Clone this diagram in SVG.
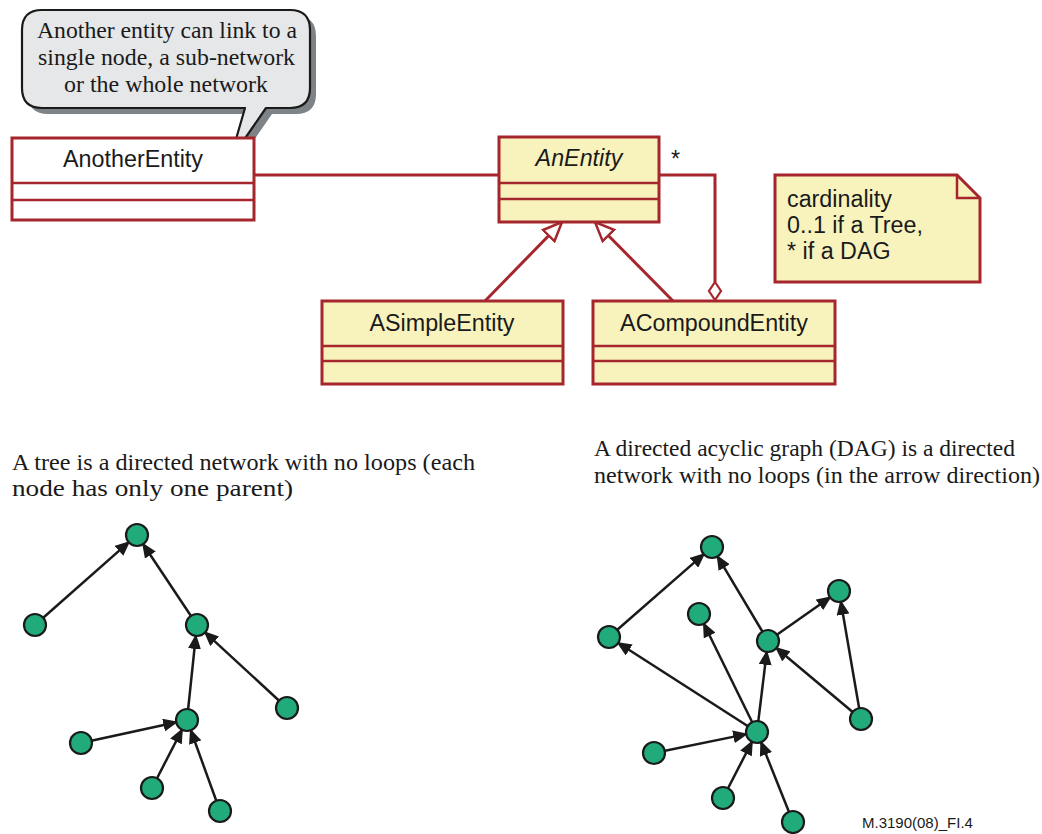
<svg xmlns="http://www.w3.org/2000/svg" width="1042" height="834" viewBox="0 0 1042 834">
<defs>
<style>
.cls{fill:#f8f3bd;stroke:#a5262c;stroke-width:3}
.div{stroke:#a5262c;stroke-width:2.5;fill:none}
.lnk{stroke:#a5262c;stroke-width:3;fill:none}
.uml{font-family:"Liberation Sans",Arial,sans-serif;font-size:23.3px;fill:#1a1a1a}
.ser{font-family:"Liberation Serif","Times New Roman",serif;font-size:23.8px;fill:#1a1a1a}
.edge{stroke:#1a1a1a;stroke-width:2.5;fill:none;marker-end:url(#arr)}
.nd{fill:#21ab7a;stroke:#1a1a1a;stroke-width:2.2}
</style>
<marker id="arr" markerUnits="userSpaceOnUse" markerWidth="15" markerHeight="13" viewBox="0 0 15 13" refX="12" refY="6.5" orient="auto">
<path d="M0,0 L15,6.5 L0,13 z" fill="#1a1a1a"/>
</marker>
<marker id="gen" markerUnits="userSpaceOnUse" markerWidth="22" markerHeight="20" viewBox="0 0 22 20" refX="20" refY="10" orient="auto">
<path d="M1,2 L20,10 L1,18 z" fill="#ffffff" stroke="#a5262c" stroke-width="2.5"/>
</marker>
</defs>
<rect width="1042" height="834" fill="#ffffff"/>

<g id="callout">
<path d="M48,16 H296 Q316,16 316,36 V94 Q316,114 296,114 H272 L236,166 L251,114 H48 Q28,114 28,94 V36 Q28,16 48,16 Z" fill="#7d8387"/>
<path d="M42,10 H290 Q310,10 310,30 V88 Q310,108 290,108 H266 L230,160 L245,108 H42 Q22,108 22,88 V30 Q22,10 42,10 Z" fill="#e6e7e8" stroke="#1a1a1a" stroke-width="2.2" stroke-linejoin="round"/>
<text class="ser" x="37" y="38" textLength="260" lengthAdjust="spacingAndGlyphs">Another entity can link to a</text>
<text class="ser" x="38" y="65" textLength="257" lengthAdjust="spacingAndGlyphs">single node, a sub-network</text>
<text class="ser" x="64" y="92" textLength="204" lengthAdjust="spacingAndGlyphs">or the whole network</text>
</g>

<g id="connectors">
<line class="lnk" x1="254" y1="175" x2="499" y2="175" stroke-width="3.5"/>
<polyline class="lnk" points="659,175 715,175 715,282"/>
<path d="M715,282 L721,291 L715,300 L709,291 Z" fill="#ffffff" stroke="#a5262c" stroke-width="2.2"/>
<line class="lnk" x1="485" y1="301" x2="562" y2="222" marker-end="url(#gen)"/>
<line class="lnk" x1="673" y1="301" x2="595" y2="222" marker-end="url(#gen)"/>
<text class="uml" x="671" y="167">*</text>
</g>

<g id="AnotherEntity">
<rect x="12" y="138" width="242" height="82" fill="#ffffff" stroke="#a5262c" stroke-width="3"/>
<line class="div" x1="12" y1="183" x2="254" y2="183"/>
<line class="div" x1="12" y1="200" x2="254" y2="200"/>
<text class="uml" x="133" y="167" text-anchor="middle">AnotherEntity</text>
</g>

<g id="AnEntity">
<rect class="cls" x="499" y="137" width="160" height="85"/>
<line class="div" x1="499" y1="183" x2="659" y2="183"/>
<line class="div" x1="499" y1="199" x2="659" y2="199"/>
<text class="uml" x="579" y="166" text-anchor="middle" font-style="italic">AnEntity</text>
</g>

<g id="ASimpleEntity">
<rect class="cls" x="322" y="301" width="241" height="83"/>
<line class="div" x1="322" y1="346" x2="563" y2="346"/>
<line class="div" x1="322" y1="361" x2="563" y2="361"/>
<text class="uml" x="442" y="331" text-anchor="middle">ASimpleEntity</text>
</g>

<g id="ACompoundEntity">
<rect class="cls" x="593" y="301" width="242" height="83"/>
<line class="div" x1="593" y1="346" x2="835" y2="346"/>
<line class="div" x1="593" y1="361" x2="835" y2="361"/>
<text class="uml" x="714" y="331" text-anchor="middle">ACompoundEntity</text>
</g>

<g id="note">
<path d="M775,175 H957 L980,198 V282 H775 Z" fill="#f8f3bd" stroke="#a5262c" stroke-width="3" stroke-linejoin="miter"/>
<path d="M957,175 V198 H980" fill="none" stroke="#a5262c" stroke-width="2.5"/>
<text class="uml" x="787" y="207">cardinality</text>
<text class="uml" x="787" y="233">0..1 if a Tree,</text>
<text class="uml" x="787" y="259">* if a DAG</text>
</g>

<g id="captions">
<text class="ser" x="12" y="470" textLength="463" lengthAdjust="spacingAndGlyphs">A tree is a directed network with no loops (each</text>
<text class="ser" x="12" y="496" textLength="281" lengthAdjust="spacingAndGlyphs">node has only one parent)</text>
<text class="ser" x="594" y="456" textLength="421" lengthAdjust="spacingAndGlyphs">A directed acyclic graph (DAG) is a directed</text>
<text class="ser" x="594" y="483" textLength="446" lengthAdjust="spacingAndGlyphs">network with no loops (in the arrow direction)</text>
<text x="862" y="828" font-family="Liberation Sans,Arial,sans-serif" font-size="15" fill="#1a1a1a">M.3190(08)_FI.4</text>
</g>

<g id="tree-edges">
<line class="edge" x1="35" y1="625" x2="128" y2="542.9"/>
<line class="edge" x1="197" y1="625" x2="143.7" y2="545"/>
<line class="edge" x1="187" y1="720" x2="195.7" y2="636.9"/>
<line class="edge" x1="287" y1="708" x2="205.8" y2="633.1"/>
<line class="edge" x1="81" y1="743" x2="175.3" y2="722.5"/>
<line class="edge" x1="152" y1="788" x2="181.5" y2="730.7"/>
<line class="edge" x1="220" y1="811" x2="191.1" y2="731.3"/>
</g>
<g id="tree-nodes">
<circle class="nd" cx="137" cy="535" r="11"/>
<circle class="nd" cx="35" cy="625" r="11"/>
<circle class="nd" cx="197" cy="625" r="11"/>
<circle class="nd" cx="287" cy="708" r="11"/>
<circle class="nd" cx="187" cy="720" r="11"/>
<circle class="nd" cx="81" cy="743" r="11"/>
<circle class="nd" cx="152" cy="788" r="11"/>
<circle class="nd" cx="220" cy="811" r="11"/>
</g>

<g id="dag-edges">
<line class="edge" x1="609" y1="637" x2="703" y2="554.9"/>
<line class="edge" x1="768" y1="641" x2="718.1" y2="557.3"/>
<line class="edge" x1="768" y1="641" x2="829.2" y2="597.9"/>
<line class="edge" x1="861" y1="719" x2="841" y2="602.8"/>
<line class="edge" x1="861" y1="719" x2="777.2" y2="648.7"/>
<line class="edge" x1="757" y1="732" x2="766.6" y2="652.9"/>
<line class="edge" x1="757" y1="732" x2="704.3" y2="624.8"/>
<line class="edge" x1="757" y1="732" x2="619.1" y2="643.5"/>
<line class="edge" x1="654" y1="753" x2="745.2" y2="734.4"/>
<line class="edge" x1="723" y1="798" x2="751.5" y2="742.7"/>
<line class="edge" x1="793" y1="822" x2="761.5" y2="743.2"/>
</g>
<g id="dag-nodes">
<circle class="nd" cx="712" cy="547" r="11"/>
<circle class="nd" cx="609" cy="637" r="11"/>
<circle class="nd" cx="699" cy="614" r="11"/>
<circle class="nd" cx="768" cy="641" r="11"/>
<circle class="nd" cx="839" cy="591" r="11"/>
<circle class="nd" cx="861" cy="719" r="11"/>
<circle class="nd" cx="757" cy="732" r="11"/>
<circle class="nd" cx="654" cy="753" r="11"/>
<circle class="nd" cx="723" cy="798" r="11"/>
<circle class="nd" cx="793" cy="822" r="11"/>
</g>
</svg>
